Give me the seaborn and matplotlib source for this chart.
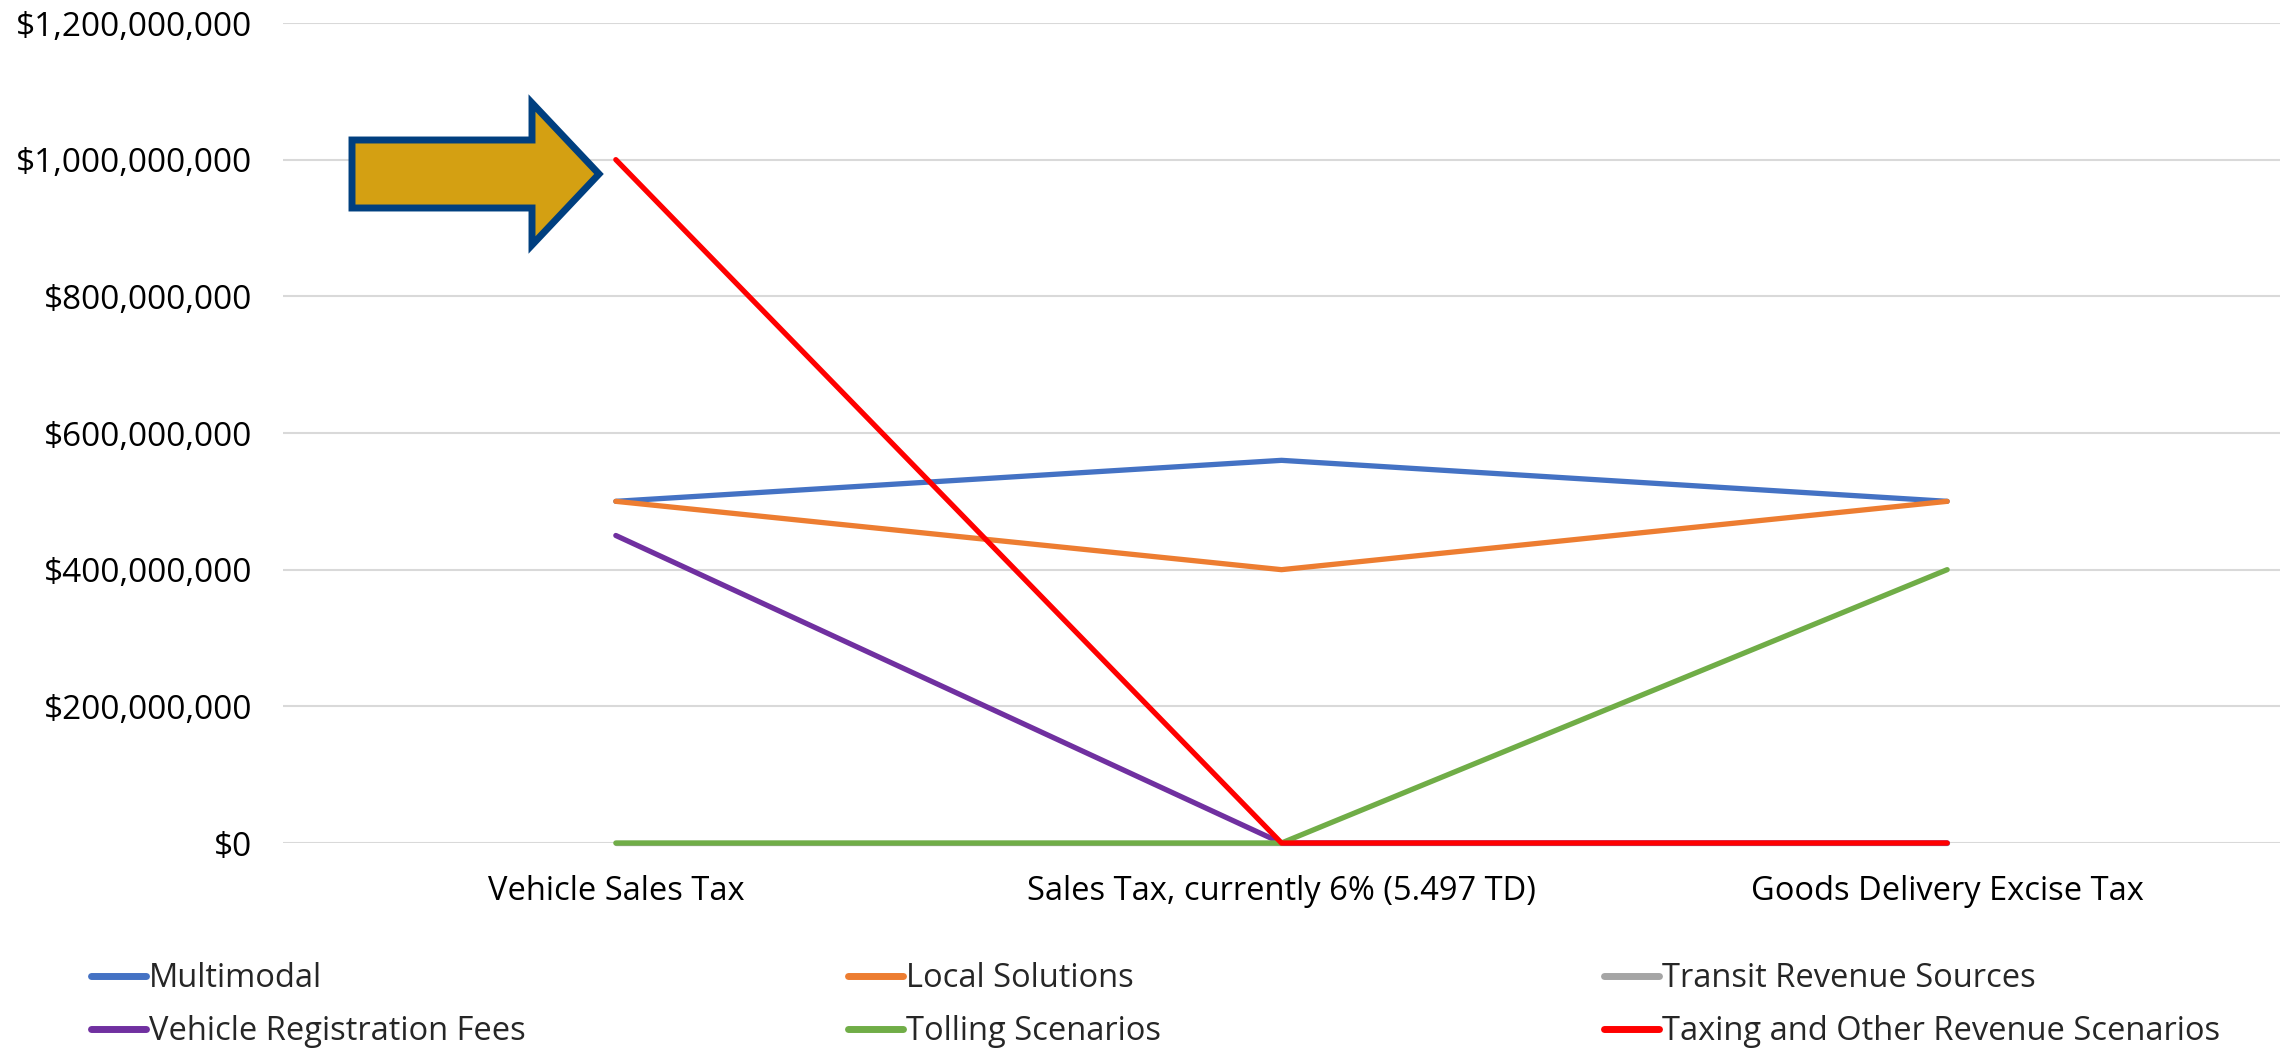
import matplotlib
matplotlib.use("Agg")
import matplotlib.pyplot as plt
import matplotlib.ticker as mticker
from matplotlib.patches import Polygon
import seaborn as sns
import pandas as pd

categories = ["Vehicle Sales Tax", "Sales Tax, currently 6% (5.497 TD)", "Goods Delivery Excise Tax"]
series_names = ["Multimodal", "Local Solutions", "Transit Revenue Sources",
                "Vehicle Registration Fees", "Tolling Scenarios", "Taxing and Other Revenue Scenarios"]
multimodal = [500_000_000, 560_000_000, 500_000_000]
local_solutions = [500_000_000, 400_000_000, 500_000_000]
transit_revenue = [0, 0, 0]
vehicle_registration = [450_000_000, 0, 0]
tolling = [0, 0, 400_000_000]
taxing_other = [1_000_000_000, 0, 0]
colors = ["#4472C4", "#ED7D31", "#A5A5A5", "#7030A0", "#70AD47", "#FF0000"]
y_ticks = [0, 200_000_000, 400_000_000, 600_000_000, 800_000_000, 1_000_000_000, 1_200_000_000]

all_values = [multimodal, local_solutions, transit_revenue, vehicle_registration, tolling, taxing_other]
rows = []
for name, vals in zip(series_names, all_values):
    for c, v in zip(categories, vals):
        rows.append({"Category": c, "Series": name, "Value": v})
df = pd.DataFrame(rows)

sns.set_theme(style="white")
FONT = ["Open Sans", "DejaVu Sans"]
plt.rcParams["font.family"] = FONT

W, H = 2292, 1048
fig = plt.figure(figsize=(W / 100, H / 100), dpi=100)
ax = fig.add_axes([283 / W, 1 - 843 / H, (2280 - 283) / W, (843 - 23) / H])

sns.lineplot(data=df, x="Category", y="Value", hue="Series", hue_order=series_names,
             palette=colors, sort=False, linewidth=3.8, ax=ax, legend=True,
             solid_capstyle="round", zorder=3)
for ln in ax.get_lines():
    ln.set_clip_on(False)

ax.set_xlim(-0.5, 2.5)
ax.set_ylim(0, 1_200_000_000)
ax.set_yticks(y_ticks)
ax.yaxis.set_major_formatter(mticker.FuncFormatter(lambda v, p: f"${v:,.0f}"))
ax.grid(axis="y", color="#D9D9D9", linewidth=1.5, zorder=0)
ax.grid(axis="x", visible=False)
for s in ax.spines.values():
    s.set_visible(False)
ax.tick_params(axis="both", length=0, colors="black")
ax.tick_params(axis="y", pad=22, labelsize=24)
ax.tick_params(axis="x", pad=23, labelsize=23.5)
ax.set_xlabel("")
ax.set_ylabel("")

handles, labels = ax.get_legend_handles_labels()
ax.get_legend().remove()
hmap = dict(zip(labels, handles))
col_groups = [["Multimodal", "Vehicle Registration Fees"],
              ["Local Solutions", "Tolling Scenarios"],
              ["Transit Revenue Sources", "Taxing and Other Revenue Scenarios"]]
col_x = [91, 848, 1604]
for cx, grp in zip(col_x, col_groups):
    hs = []
    for g in grp:
        h = hmap[g]
        h.set_linewidth(5)
        hs.append(h)
    fig.legend(hs, grp, loc="upper left", bbox_to_anchor=(cx / W, 1 - 962 / H),
               frameon=False, fontsize=23.5, handlelength=1.69, handletextpad=0.08,
               labelspacing=0.62, borderaxespad=0, borderpad=0)

# Arrow callout
pts_px = [(352, 140), (532, 140), (532, 103), (599, 174), (532, 245), (532, 208), (352, 208)]
pts = [(x / W, 1 - y / H) for x, y in pts_px]
arrow = Polygon(pts, closed=True, transform=fig.transFigure, facecolor="#D4A012",
                edgecolor="#003F7F", linewidth=5, joinstyle="miter", zorder=10)
fig.patches.append(arrow)

fig.savefig("out.png", dpi=100)
